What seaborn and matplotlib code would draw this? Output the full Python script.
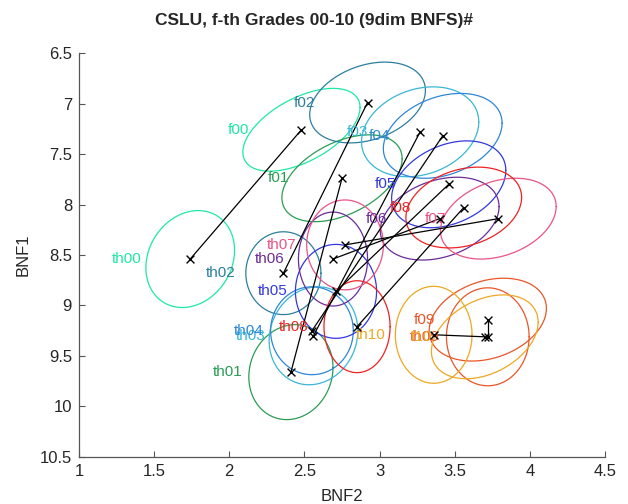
import numpy as np
import pandas as pd
import matplotlib
matplotlib.use("Agg")
import matplotlib.pyplot as plt
import seaborn as sns

# class means (BNF2 on x, BNF1 on y)
grades = ["00", "01", "02", "03", "04", "05", "06", "07", "08", "09", "10"]
f_x = [2.48, 2.75, 2.92, 3.27, 3.42, 3.46, 3.40, 3.79, 3.56, 3.72, 3.70]
f_y = [7.26, 7.74, 6.99, 7.28, 7.32, 7.80, 8.14, 8.14, 8.03, 9.14, 9.31]
th_x = [1.74, 2.41, 2.36, 2.56, 2.55, 2.71, 2.69, 2.77, 2.85, 3.72, 3.36]
th_y = [8.54, 9.66, 8.68, 9.30, 9.25, 8.86, 8.54, 8.40, 9.21, 9.31, 9.29]

# ellipse spread: half extent in x, half extent in y, correlation
f_sx = [0.39, 0.40, 0.385, 0.39, 0.395, 0.38, 0.395, 0.385, 0.385, 0.39, 0.355]
f_sy = [0.41, 0.43, 0.40, 0.445, 0.42, 0.43, 0.41, 0.40, 0.40, 0.41, 0.415]
f_rho = [-0.54, -0.45, -0.30, -0.22, -0.30, -0.32, -0.29, -0.30, -0.25, -0.27, -0.35]
th_sx = [0.295, 0.28, 0.25, 0.295, 0.275, 0.27, 0.23, 0.255, 0.22, 0.275, 0.255]
th_sy = [0.48, 0.47, 0.41, 0.485, 0.435, 0.465, 0.465, 0.445, 0.455, 0.485, 0.48]
th_rho = [-0.18, -0.10, 0.0, -0.10, 0.0, 0.0, 0.0, 0.0, 0.0, 0.0, 0.0]

colors = ["#1fe8a4", "#2a9d55", "#2b7f9e", "#3ab6d6", "#2e86d6", "#3338df",
          "#6b2c9a", "#ea5384", "#ee2222", "#ea5527", "#eda822"]

sns.set_style("white")
plt.rcParams["font.family"] = ["Liberation Sans", "DejaVu Sans"]

fig = plt.figure(figsize=(6.28, 5.04), dpi=100)
ax = fig.add_axes([0.1258, 0.0933, 0.8376, 0.8015])

t = np.linspace(0, 2 * np.pi, 200)


def ellipse(mx, my, sx, sy, rho):
    ex = mx + sx * np.cos(t)
    ey = my + sy * (rho * np.cos(t) + np.sqrt(1 - rho ** 2) * np.sin(t))
    return ex, ey


for i, g in enumerate(grades):
    for mx, my, sx, sy, rho in [(f_x[i], f_y[i], f_sx[i], f_sy[i], f_rho[i]),
                                (th_x[i], th_y[i], th_sx[i], th_sy[i], th_rho[i])]:
        ex, ey = ellipse(mx, my, sx, sy, rho)
        sns.lineplot(x=ex, y=ey, sort=False, estimator=None, color=colors[i],
                     linewidth=0.9, ax=ax)

# f -> th connections
for i in range(len(grades)):
    sns.lineplot(x=[f_x[i], th_x[i]], y=[f_y[i], th_y[i]], sort=False,
                 estimator=None, color="black", linewidth=0.9, ax=ax)

pts = pd.DataFrame({"x": f_x + th_x, "y": f_y + th_y})
sns.scatterplot(data=pts, x="x", y="y", marker="x", color="black", s=32,
                linewidth=1.0, ax=ax, zorder=5)

for i, g in enumerate(grades):
    ax.text(f_x[i] - 0.42, f_y[i], "f" + g, color=colors[i], fontsize=11,
            ha="center", va="center")
    ax.text(th_x[i] - 0.42, th_y[i], "th" + g, color=colors[i], fontsize=11,
            ha="center", va="center")

ax.set_xlim(1, 4.5)
ax.set_ylim(10.5, 6.5)
ax.set_xticks([1, 1.5, 2, 2.5, 3, 3.5, 4, 4.5])
ax.set_xticklabels(["1", "1.5", "2", "2.5", "3", "3.5", "4", "4.5"])
ax.set_yticks([6.5, 7, 7.5, 8, 8.5, 9, 9.5, 10, 10.5])
ax.set_yticklabels(["6.5", "7", "7.5", "8", "8.5", "9", "9.5", "10", "10.5"])
ax.tick_params(direction="in", length=4, color="#555555", labelsize=12,
               labelcolor="#262626", left=True, bottom=True, pad=5)
for side in ["top", "right"]:
    ax.spines[side].set_visible(False)
for side in ["left", "bottom"]:
    ax.spines[side].set_color("#555555")
    ax.spines[side].set_linewidth(0.9)

ax.set_xlabel("BNF2", fontsize=12, color="#262626", labelpad=7)
ax.set_ylabel("BNF1", fontsize=12, color="#262626", labelpad=6.5)
fig.text(0.5, 0.950, "CSLU, f-th Grades 00-10 (9dim BNFS)#", fontsize=12.5,
         fontweight="bold", ha="center", va="baseline")

fig.savefig("out.png", dpi=100)
